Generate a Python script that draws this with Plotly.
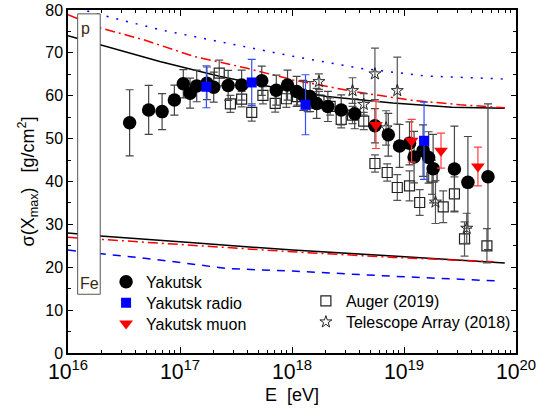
import math
import plotly.graph_objects as go

# ---------------- data ----------------
# Yakutsk (circles)
yak_E = [3.55e16, 5.25e16, 6.92e16, 8.91e16, 1.07e17, 1.23e17, 1.41e17, 1.74e17, 2.0e17,
         2.69e17, 3.55e17, 5.37e17, 7.24e17, 9.12e17, 1.10e18, 1.26e18, 1.45e18, 1.66e18,
         2.09e18, 2.75e18, 3.63e18, 5.50e18, 7.24e18, 9.12e18, 1.12e19, 1.23e19, 1.48e19,
         1.66e19, 1.82e19, 2.82e19, 3.72e19, 5.62e19]
yak_s = [53.7, 56.7, 56.3, 59.0, 62.8, 60.6, 62.3, 62.9, 62.0, 62.4, 62.5, 63.5, 61.3, 62.5,
         61.0, 60.1, 59.8, 58.2, 57.5, 56.7, 55.8, 53.0, 50.9, 48.3, 48.9, 45.7, 47.2, 45.6,
         43.0, 42.9, 39.8, 41.1]
yak_err = [7.7, 5.7, 4.2, 3.5, 3.3, 3.5, 3.7, 3.8, 3.5, 3.5, 3.5, 3.4, 3.5, 3.5, 3.5, 3.5,
           3.5, 3.5, 3.5, 3.5, 3.5, 4.0, 5.0, 5.0, 5.0, 6.0, 6.0, 6.0, 8.0, 10.0, 10.7, 17.0]

# Yakutsk radio (blue squares)
radio_E = [1.72e17, 4.37e17, 1.32e18, 1.51e19]
radio_s = [62.1, 63.1, 57.9, 49.5]
radio_err = [4.9, 5.4, 7.0, 9.0]

# Yakutsk muon (red down triangles)
muon_E = [5.62e18, 1.17e19, 2.14e19, 4.57e19]
muon_s = [53.2, 49.5, 47.2, 43.5]
muon_err = [5.5, 5.0, 4.1, 4.5]

# Auger (2019) (open squares)
aug_E = [2.24e17, 2.82e17, 3.55e17, 4.37e17, 5.50e17, 7.08e17, 8.91e17, 1.12e18, 1.38e18,
         1.74e18, 2.19e18, 2.75e18, 3.47e18, 4.37e18, 5.50e18, 7.08e18, 8.71e18, 1.12e19,
         1.38e19, 1.78e19, 2.24e19, 2.82e19, 3.47e19, 5.50e19]
aug_s = [65.3, 58.1, 59.2, 56.1, 60.1, 58.2, 59.3, 59.8, 58.3, 59.0, 57.5, 54.5, 55.5, 54.1,
         44.2, 42.1, 38.6, 39.0, 35.1, 41.0, 34.1, 37.1, 26.6, 25.0]
aug_err = [3.0, 2.0, 1.8, 2.0, 2.0, 2.0, 2.0, 2.0, 2.0, 2.0, 2.0, 2.0, 2.0, 2.0, 2.0, 2.0,
           3.0, 3.5, 3.0, 4.0, 3.7, 4.0, 4.0, 4.0]

# Telescope Array (2018) (open stars)
ta_E = [1.74e18, 3.47e18, 4.37e18, 5.50e18, 6.92e18, 8.71e18, 1.91e19, 3.63e19]
ta_s = [63.3, 61.2, 58.0, 65.1, 52.5, 61.2, 35.2, 29.1]
ta_err = [1.8, 3.0, 2.5, 6.0, 4.0, 7.8, 5.0, 3.5]

# model curves
p_E = [1e16, 1.95e16, 6.6e16, 2.29e17, 6.76e17, 2.04e18, 7.94e18, 2.69e19, 7.94e19]
p_black = [74.0, 71.9, 68.0, 64.5, 62.0, 59.8, 58.3, 57.3, 57.1]
pr_E = [1e16, 1.95e16, 4.68e16, 1.32e17, 3.98e17, 1.02e18, 3.55e18, 1.12e19, 3.16e19, 7.94e19]
p_red = [78.9, 75.8, 73.1, 69.2, 66.4, 63.7, 61.0, 59.0, 57.9, 57.2]
pb_E = [1e16, 1.95e16, 6.6e16, 2.63e17, 1.02e18, 4.07e18, 1.58e19, 7.94e19]
p_blue = [81.0, 78.9, 75.4, 72.3, 69.2, 66.4, 64.6, 63.9]

fe_E = [1e16, 1.95e16, 1.32e17, 1.02e18, 7.94e18, 7.94e19]
fe_black = [28.0, 27.3, 25.7, 24.0, 22.6, 21.0]
fer_E = [1e16, 1.95e16, 1.32e17, 1.02e18, 7.94e18, 6.31e19]
fe_red = [27.0, 26.5, 25.2, 23.6, 22.3, 21.3]
feb_E = [1e16, 1.95e16, 6.6e16, 2.63e17, 1.02e18, 7.94e18, 6.92e19]
fe_blue = [24.0, 23.2, 21.7, 19.7, 19.1, 17.9, 16.8]

# composition label box bounds (E) and extent (sigma)
box_E = [1.22e16, 1.94e16]
box_s = [13.7, 79.1]

FONT = "Arial, Liberation Sans, sans-serif"

fig = go.Figure()

# model lines
for xs, ys, col, dash in [
    (p_E, p_black, "black", "solid"),
    (pr_E, p_red, "#ff0000", "10px,4px,2px,4px"),
    (pb_E, p_blue, "#0000ff", "2px,8px"),
    (fe_E, fe_black, "black", "solid"),
    (fer_E, fe_red, "#ff0000", "10px,4px,2px,4px"),
    (feb_E, fe_blue, "#0000ff", "8px,7px"),
]:
    fig.add_trace(go.Scatter(x=xs, y=ys, mode="lines", showlegend=False,
                             line=dict(color=col, width=1.5, dash=dash), hoverinfo="skip"))

# Auger
fig.add_trace(go.Scatter(
    x=aug_E, y=aug_s, mode="markers", name="Auger (2019)", legend="legend4",
    marker=dict(symbol="square-open", size=10, color="#222", line=dict(width=1.2)),
    error_y=dict(type="data", array=aug_err, color="#555", thickness=1.2, width=4)))
# TA
fig.add_trace(go.Scatter(
    x=ta_E, y=ta_s, mode="markers", name="Telescope Array (2018)", legend="legend5",
    marker=dict(symbol="star-open", size=9, color="#222", line=dict(width=1)),
    error_y=dict(type="data", array=ta_err, color="#555", thickness=1.2, width=4)))
# Yakutsk
fig.add_trace(go.Scatter(
    x=yak_E, y=yak_s, mode="markers", name="Yakutsk", legend="legend",
    marker=dict(symbol="circle", size=13.5, color="black"),
    error_y=dict(type="data", array=yak_err, color="#444", thickness=1.2, width=4)))
# radio
fig.add_trace(go.Scatter(
    x=radio_E, y=radio_s, mode="markers", name="Yakutsk radio", legend="legend2",
    marker=dict(symbol="square", size=10, color="#0000ff"),
    error_y=dict(type="data", array=radio_err, color="#3050ff", thickness=1.2, width=4)))
# muon
fig.add_trace(go.Scatter(
    x=muon_E, y=muon_s, mode="markers", name="Yakutsk muon", legend="legend3",
    marker=dict(symbol="triangle-down", size=12, color="#ff0000"),
    error_y=dict(type="data", array=muon_err, color="#ff4040", thickness=1.2, width=4)))

# p / Fe box
fig.add_shape(type="rect", xref="x", yref="y", x0=box_E[0], x1=box_E[1],
              y0=box_s[0], y1=box_s[1], fillcolor="white",
              line=dict(color="#555", width=1), layer="above")
fig.add_annotation(x=math.log10(box_E[0]), y=box_s[1], xref="x", yref="y",
                   xanchor="left", yanchor="top",
                   text="p", showarrow=False, font=dict(family=FONT, size=16, color="#3a2a10"),
                   xshift=1, yshift=-4)
fig.add_annotation(x=math.log10(box_E[0]), y=box_s[0], xref="x", yref="y",
                   xanchor="left", yanchor="bottom",
                   text="Fe", showarrow=False, font=dict(family=FONT, size=16, color="#3a2a10"),
                   xshift=0, yshift=0)

LEG = dict(xanchor="left", yanchor="top", bgcolor="rgba(0,0,0,0)",
           font=dict(family=FONT, size=16), itemwidth=30)

fig.update_layout(
    width=538, height=414,
    margin=dict(l=68, r=22, t=10, b=61),
    paper_bgcolor="white", plot_bgcolor="white",
    font=dict(family=FONT, color="black"),
    legend=dict(x=0.085, y=0.257, **LEG),
    legend2=dict(x=0.085, y=0.196, **LEG),
    legend3=dict(x=0.085, y=0.135, **LEG),
    legend4=dict(x=0.531, y=0.201, **LEG),
    legend5=dict(x=0.531, y=0.140, **LEG),
    xaxis=dict(type="log", range=[16, 20], dtick=1, exponentformat="power", automargin=False,
               showline=True, linecolor="black", linewidth=1.5, mirror="ticks",
               ticks="inside", ticklen=6, tickwidth=1, tickcolor="black", showgrid=False,
               zeroline=False, tickfont=dict(family=FONT, size=17),
               minor=dict(ticks="inside", ticklen=3, tickcolor="black", dtick="D1", showgrid=False),
               title=dict(text="E\u00a0\u00a0[eV]", font=dict(family=FONT, size=18), standoff=5)),
    yaxis=dict(range=[0, 80], dtick=10, showline=True, linecolor="black", linewidth=1.5,
               automargin=False,
               mirror="ticks", ticks="inside", ticklen=5, tickwidth=1, tickcolor="black",
               showgrid=False, zeroline=False, tickfont=dict(family=FONT, size=16),
               minor=dict(ticks="inside", ticklen=3, dtick=5, tickcolor="black", showgrid=False),
               title=dict(text="σ(X<sub>max</sub>)\u00a0\u00a0\u00a0[g/cm<sup>2</sup>]",
                          font=dict(family=FONT, size=18), standoff=6)),
)

fig.write_html("out.html", config={"displayModeBar": False},
               post_script="document.body.style.margin='0px';")
